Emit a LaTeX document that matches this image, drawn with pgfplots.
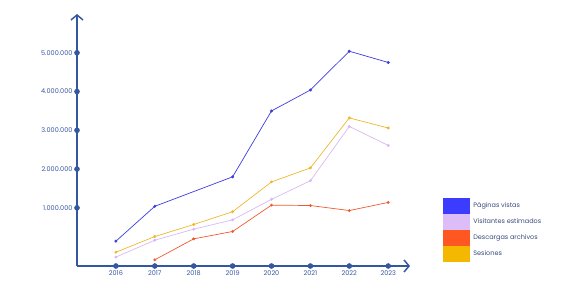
\documentclass[border=0pt]{standalone}
\usepackage{fontspec}
\setmainfont{Poppins}
\usepackage{pgfplots}
\pgfplotsset{compat=1.18}
\usetikzlibrary{arrows.meta}
\definecolor{axiscol}{HTML}{3556A0}
\definecolor{cblue}{HTML}{3C3CE0}
\definecolor{clav}{HTML}{D8B9F4}
\definecolor{cred}{HTML}{F05A30}
\definecolor{cyel}{HTML}{EDB82E}
\definecolor{lblue}{HTML}{3C3CFF}
\definecolor{llav}{HTML}{DDBDF8}
\definecolor{lred}{HTML}{FF5722}
\definecolor{lyel}{HTML}{F5B800}
\definecolor{legtext}{HTML}{3A4A7A}
\pgfplotsset{legbox/.style={legend image code/.code={\fill[##1,draw=none] (0pt,-8pt) rectangle (27pt,8pt);}}}
\begin{document}
\begin{tikzpicture}
\useasboundingbox (-77pt,-15pt) rectangle (498pt,266pt);
\begin{axis}[
  scale only axis, width=333pt, height=252pt,
  xmin=2015, xmax=2023.56, ymin=-0.5, ymax=6.0,
  axis x line=bottom, axis y line=left,
  axis line style={draw=axiscol, line width=1.8pt, -{Straight Barb[length=5pt,width=12pt,line width=1.5pt]}},
  xtick={2016,2017,2018,2019,2020,2021,2022,2023},
  xticklabels={2016,2017,2018,2019,2020,2021,2022,2023},
  ytick={1,2,3,4,5},
  yticklabels={1.000.000,2.000.000,3.000.000,4.000.000,5.000.000},
  major tick length=0pt,
  tick label style={font=\fontsize{6.5}{7}\selectfont, text=axiscol},
  xticklabel style={yshift=-1pt},
  yticklabel style={xshift=-1pt},
  clip=false,
  legend style={at={(1.089,0.278)}, anchor=north west, draw=none, fill=none,
    font=\fontsize{6.5}{7}\selectfont, text=legtext, row sep=0pt, column sep=3pt,
    nodes={inner sep=0.5pt}},
  legend cell align=left,
  every axis plot/.append style={line width=0.7pt, mark=*, mark size=1.1pt},
]
\addplot[cblue, mark options={fill=cblue}, forget plot] coordinates {
(2016,0.14) (2017,1.04) (2019,1.80) (2020,3.50) (2021,4.04) (2022,5.04) (2023,4.75)};
\addplot[clav, mark options={fill=clav}, forget plot] coordinates {
(2016,-0.27) (2017,0.165) (2018,0.45) (2019,0.69) (2020,1.22) (2021,1.70) (2022,3.10) (2023,2.61)};
\addplot[cred, mark options={fill=cred}, forget plot] coordinates {
(2017,-0.34) (2018,0.20) (2019,0.39) (2020,1.07) (2021,1.06) (2022,0.93) (2023,1.14)};
\addplot[cyel, mark options={fill=cyel}, forget plot] coordinates {
(2016,-0.145) (2017,0.26) (2018,0.57) (2019,0.90) (2020,1.67) (2021,2.03) (2022,3.32) (2023,3.06)};
\addplot[only marks, mark=*, mark size=2.4pt, axiscol, forget plot] coordinates {
(2016,-0.5) (2017,-0.5) (2018,-0.5) (2019,-0.5) (2020,-0.5) (2021,-0.5) (2022,-0.5) (2023,-0.5)
(2015,1) (2015,2) (2015,3) (2015,4) (2015,5)};
\addlegendimage{legbox, fill=lblue}
\addlegendentry{Páginas vistas}
\addlegendimage{legbox, fill=llav}
\addlegendentry{Visitantes estimados}
\addlegendimage{legbox, fill=lred}
\addlegendentry{Descargas archivos}
\addlegendimage{legbox, fill=lyel}
\addlegendentry{Sesiones}
\end{axis}
\end{tikzpicture}
\end{document}
